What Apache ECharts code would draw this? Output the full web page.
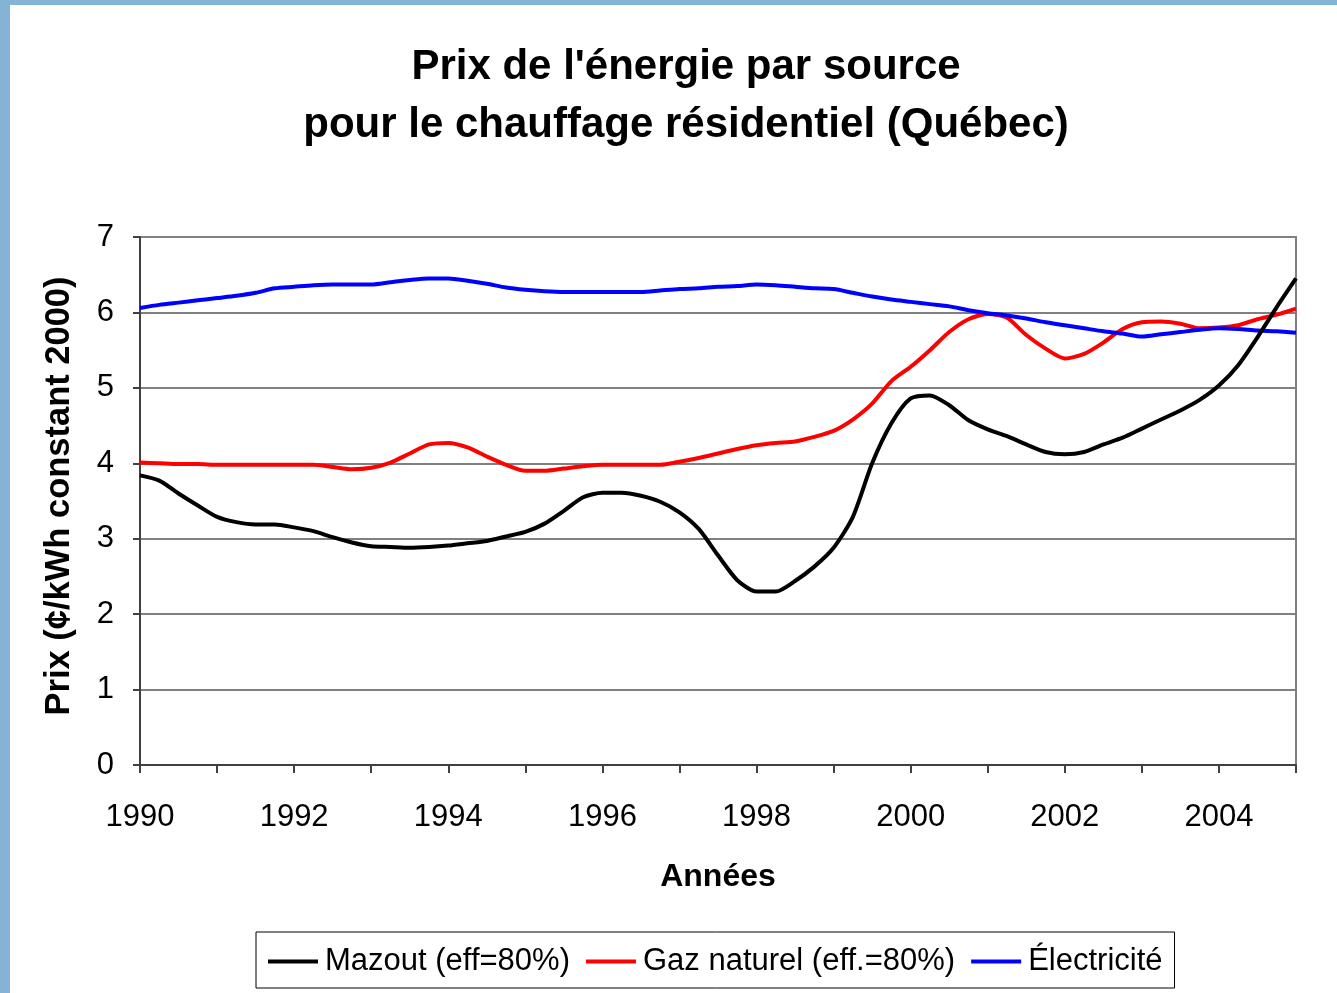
<!DOCTYPE html>
<html lang="fr">
<head>
<meta charset="UTF-8">
<title>Prix de l'énergie par source</title>
<script src="https://cdn.jsdelivr.net/npm/echarts/dist/echarts.min.js"></script>
<style>
    html, body { margin: 0; padding: 0; background: #85b3d6; }
    #chart { position: absolute; left: 10px; top: 5px; width: 1327px; height: 988px; background: #fff; }
</style>
</head>
<body>
<div id="chart"></div>
<script>
// trimestres 1990 -> 2005
var periodes = [
    1990, 1990.25, 1990.5, 1990.75, 1991, 1991.25, 1991.5, 1991.75,
    1992, 1992.25, 1992.5, 1992.75, 1993, 1993.25, 1993.5, 1993.75,
    1994, 1994.25, 1994.5, 1994.75, 1995, 1995.25, 1995.5, 1995.75,
    1996, 1996.25, 1996.5, 1996.75, 1997, 1997.25, 1997.5, 1997.75,
    1998, 1998.25, 1998.5, 1998.75, 1999, 1999.25, 1999.5, 1999.75,
    2000, 2000.25, 2000.5, 2000.75, 2001, 2001.25, 2001.5, 2001.75,
    2002, 2002.25, 2002.5, 2002.75, 2003, 2003.25, 2003.5, 2003.75,
    2004, 2004.25, 2004.5, 2004.75, 2005
];

var mazout = [
    3.84, 3.77, 3.60, 3.44,  3.29, 3.22, 3.19, 3.19,
    3.15, 3.10, 3.02, 2.95,  2.90, 2.89, 2.88, 2.89,
    2.91, 2.94, 2.97, 3.03,  3.09, 3.20, 3.37, 3.55,
    3.61, 3.61, 3.57, 3.49,  3.35, 3.13, 2.78, 2.45,
    2.30, 2.30, 2.44, 2.63,  2.88, 3.29, 4.00, 4.53,
    4.86, 4.90, 4.77, 4.57,  4.45, 4.36, 4.25, 4.15,
    4.12, 4.15, 4.25, 4.34,  4.46, 4.58, 4.70, 4.84,
    5.03, 5.30, 5.67, 6.07,  6.45
];

var gaz = [
    4.01, 4.00, 3.99, 3.99,  3.98, 3.98, 3.98, 3.98,
    3.98, 3.98, 3.95, 3.92,  3.94, 4.01, 4.13, 4.25,
    4.27, 4.21, 4.09, 3.98,  3.90, 3.90, 3.93, 3.96,
    3.98, 3.98, 3.98, 3.98,  4.02, 4.07, 4.13, 4.19,
    4.24, 4.27, 4.29, 4.35,  4.43, 4.58, 4.79, 5.09,
    5.28, 5.50, 5.74, 5.91,  5.98, 5.93, 5.70, 5.52,
    5.39, 5.45, 5.60, 5.78,  5.87, 5.88, 5.85, 5.79,
    5.80, 5.83, 5.91, 5.97,  6.05
];

var electricite = [
    6.06, 6.10, 6.13, 6.16,  6.19, 6.22, 6.26, 6.32,
    6.34, 6.36, 6.37, 6.37,  6.37, 6.40, 6.43, 6.45,
    6.45, 6.42, 6.38, 6.33,  6.30, 6.28, 6.27, 6.27,
    6.27, 6.27, 6.27, 6.29,  6.31, 6.32, 6.34, 6.35,
    6.37, 6.36, 6.34, 6.32,  6.31, 6.26, 6.21, 6.17,
    6.14, 6.11, 6.08, 6.03,  5.99, 5.96, 5.92, 5.87,
    5.83, 5.79, 5.75, 5.72,  5.68, 5.71, 5.74, 5.77,
    5.79, 5.78, 5.76, 5.75,  5.73
];

var noms = ['Mazout (eff=80%)', 'Gaz naturel (eff.=80%)', 'Électricité'];
var couleurs = ['#000000', '#ff0000', '#0000ff'];

function paires(valeurs) {
    return periodes.map(function (p, i) { return [p, valeurs[i]]; });
}

var police = "'Liberation Sans', Arial, sans-serif";
var chart = echarts.init(document.getElementById('chart'));

var option = {
    animation: false,
    textStyle: { fontFamily: police },
    title: {
        text: "Prix de l'énergie par source\npour le chauffage résidentiel (Québec)",
        left: 671,
        top: 28,
        textAlign: 'center',
        textStyle: { fontFamily: police, fontSize: 42, fontWeight: 'bold', color: '#000', lineHeight: 58 }
    },
    legend: {
        data: noms,
        left: 246,
        top: 927,
        orient: 'horizontal',
        icon: 'rect',
        padding: [14, 12, 11, 12],
        borderColor: '#000',
        borderWidth: 1,
        itemWidth: 50,
        itemHeight: 4,
        itemGap: 16,
        textStyle: { fontFamily: police, fontSize: 31, color: '#000', padding: [0, 0, 0, 2] }
    },
    grid: {
        left: 130, top: 232, right: 41, bottom: 228,
        show: true, borderColor: '#808080', borderWidth: 2
    },
    xAxis: {
        type: 'value',
        min: 1990, max: 2005, interval: 1,
        name: 'Années',
        nameLocation: 'middle',
        nameGap: 96,
        nameTextStyle: { fontFamily: police, fontSize: 32, fontWeight: 'bold', color: '#000' },
        axisLine: { lineStyle: { color: '#404040', width: 2 } },
        axisTick: { length: 8, lineStyle: { color: '#404040', width: 2 } },
        axisLabel: {
            margin: 37,
            fontSize: 31, color: '#000', fontFamily: police,
            formatter: function (v) { return (v % 2 === 0 && v < 2005) ? String(v) : ''; }
        },
        splitLine: { show: false }
    },
    yAxis: {
        type: 'value',
        min: 0, max: 7, interval: 1,
        name: 'Prix (¢/kWh constant 2000)',
        nameLocation: 'middle',
        nameGap: 63,
        nameTextStyle: { fontFamily: police, fontSize: 34.5, fontWeight: 'bold', color: '#000', padding: [0, 0, 0, 10] },
        axisLine: { show: true, lineStyle: { color: '#404040', width: 2 } },
        axisTick: { show: true, length: 7, lineStyle: { color: '#404040', width: 2 } },
        axisLabel: { margin: 26, fontSize: 31, color: '#000', fontFamily: police },
        splitLine: { lineStyle: { color: '#808080', width: 2 } }
    },
    series: [
        { name: noms[0], type: 'line', data: paires(mazout), z: 4 },
        { name: noms[1], type: 'line', data: paires(gaz), z: 2 },
        { name: noms[2], type: 'line', data: paires(electricite), z: 3 }
    ].map(function (s, i) {
        s.symbol = 'none';
        s.smooth = 0.25;
        s.color = couleurs[i];
        s.lineStyle = { color: couleurs[i], width: 4 };
        return s;
    })
};

chart.setOption(option);
</script>
</body>
</html>
